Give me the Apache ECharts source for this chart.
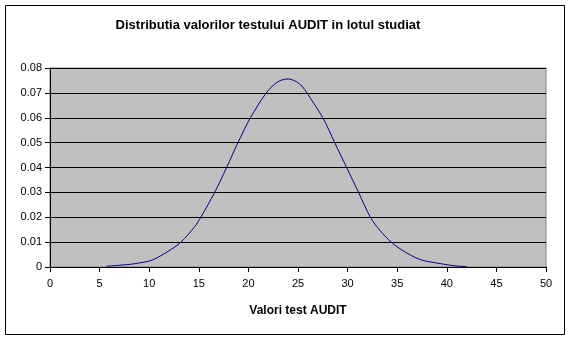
<!DOCTYPE html>
<html>
<head>
<meta charset="utf-8">
<script src="https://cdn.jsdelivr.net/npm/echarts@6/dist/echarts.min.js"></script>
<style>
html,body{margin:0;padding:0;background:#fff;}
#chart{width:572px;height:342px;}
</style>
</head>
<body>
<div id="chart"></div>
<script>
const titleText = 'Distributia valorilor testului AUDIT in lotul studiat';
const xAxisName = 'Valori test AUDIT';
const xValues = [5.7, 7, 8.5, 10.3, 11.9, 13.2, 14.6, 15.2, 16.6, 17.8, 18.95, 20.2, 21.8, 22.65, 23.3, 24, 24.8, 25.4, 25.9, 27.5, 28.7, 29.9, 31.1, 32.3, 33.3, 34.4, 35.6, 37.3, 39, 40.8, 42];
const yValues = [0.0003, 0.0007, 0.0013, 0.0028, 0.0063, 0.010, 0.0163, 0.020, 0.030, 0.040, 0.050, 0.060, 0.070, 0.0735, 0.0751, 0.0756, 0.0746, 0.0727, 0.070, 0.060, 0.050, 0.040, 0.030, 0.020, 0.0145, 0.010, 0.0065, 0.003, 0.0016, 0.0005, 0.0002];

const chart = echarts.init(document.getElementById('chart'), null, {renderer: 'canvas'});
const font = 'Arial, "Liberation Sans", sans-serif';
chart.setOption({
  animation: false,
  title: {
    text: titleText,
    left: 263, top: 14, textAlign: 'center',
    textStyle: {fontFamily: font, fontSize: 13, fontWeight: 'bold', color: '#000'}
  },
  graphic: [{
    type: 'rect', shape: {x: 5.5, y: 5.5, width: 559, height: 329},
    style: {fill: 'none', stroke: '#000', lineWidth: 1}, z: -1
  }],
  grid: {
    left: 50, right: 26, top: 68, bottom: 75,
    show: true, backgroundColor: '#C0C0C0', borderColor: '#808080', borderWidth: 1
  },
  xAxis: {
    type: 'value', min: 0, max: 50, interval: 5,
    name: xAxisName, nameLocation: 'middle', nameGap: 38,
    nameTextStyle: {fontFamily: font, fontSize: 12, fontWeight: 'bold', color: '#000'},
    axisLine: {show: true, lineStyle: {color: '#000', width: 1}},
    axisTick: {show: true, inside: false, length: 5, lineStyle: {color: '#000'}},
    axisLabel: {fontFamily: font, fontSize: 11, color: '#000', margin: 11},
    splitLine: {show: false}
  },
  yAxis: {
    type: 'value', min: 0, max: 0.08, interval: 0.01,
    axisLine: {show: true, lineStyle: {color: '#000', width: 1}},
    axisTick: {show: true, inside: false, length: 5, lineStyle: {color: '#000'}},
    axisLabel: {fontFamily: font, fontSize: 11, color: '#000', margin: 8,
      formatter: v => v === 0 ? '0' : v.toFixed(2)},
    splitLine: {show: true, lineStyle: {color: '#000', width: 1}}
  },
  series: [{
    type: 'line',
    data: xValues.map((x, i) => [x, yValues[i]]),
    smooth: 0.3,
    showSymbol: false,
    lineStyle: {color: '#000080', width: 1},
    itemStyle: {color: '#000080'}
  }]
});
</script>
</body>
</html>
